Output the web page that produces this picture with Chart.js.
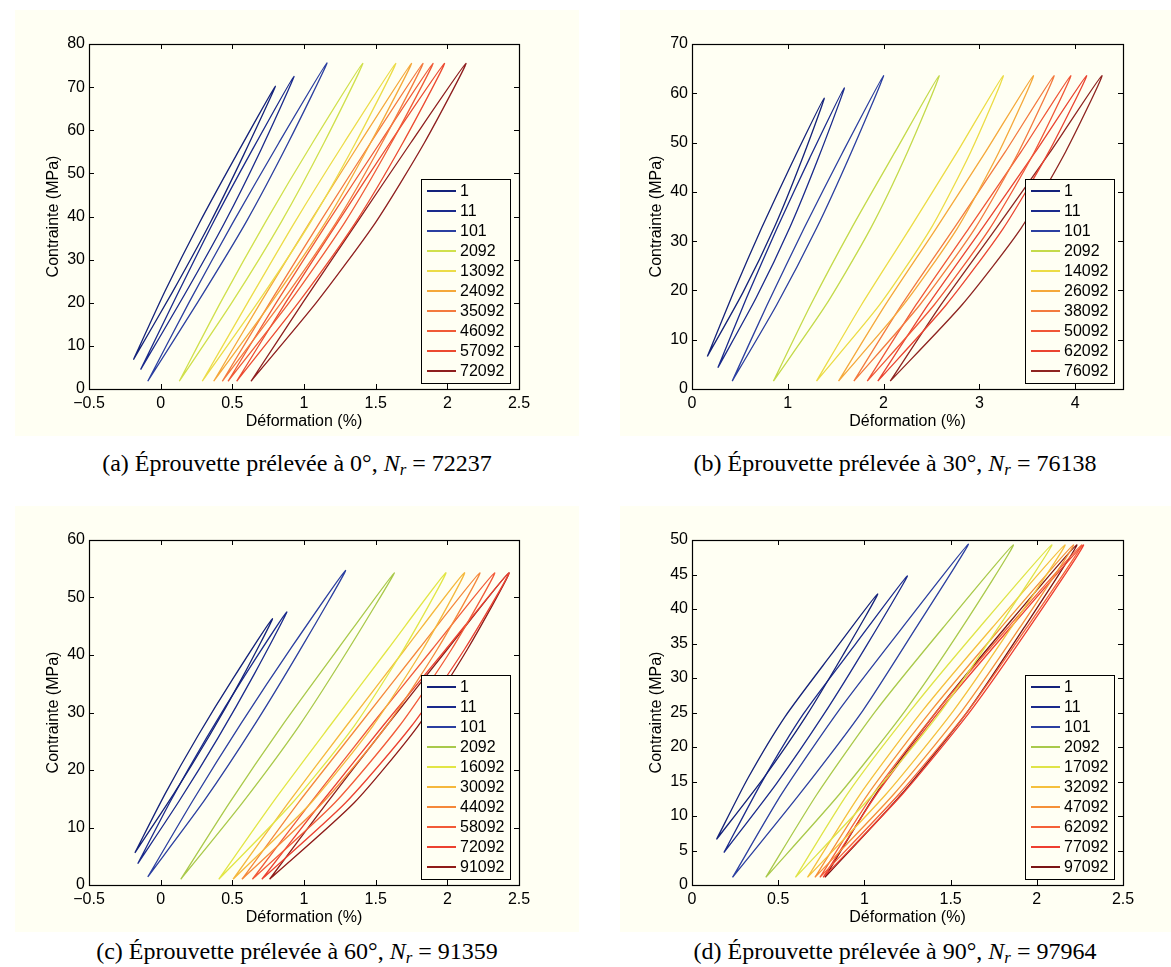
<!DOCTYPE html>
<html>
<head>
<meta charset="utf-8">
<script src="https://cdn.jsdelivr.net/npm/chart.js@4.4.1/dist/chart.umd.min.js"></script>
<style>
  body { margin: 0; background: #fff; width: 1171px; height: 967px; position: relative; overflow: hidden; }
  .panel { position: absolute; background: #fffff3; }
  .caption { position: absolute; font-family: 'Liberation Serif', 'Times New Roman', serif; font-size: 24px;
             white-space: nowrap; transform: translateX(-50%); line-height: 28px; }
  .caption sub { font-size: 70%; vertical-align: -0.25em; line-height: 0; }
</style>
</head>
<body>
<div class="panel" style="left:15px;top:10px;width:564px;height:426px"><canvas id="chartA"></canvas></div>
<div class="panel" style="left:620px;top:10px;width:551px;height:426px"><canvas id="chartB"></canvas></div>
<div class="panel" style="left:15px;top:506px;width:564px;height:426px"><canvas id="chartC"></canvas></div>
<div class="panel" style="left:620px;top:506px;width:551px;height:426px"><canvas id="chartD"></canvas></div>

<div class="caption" style="left:297px;top:449px">(a) Éprouvette prélevée à 0°, <i>N<sub>r</sub></i> = 72237</div>
<div class="caption" style="left:895px;top:449px">(b) Éprouvette prélevée à 30°, <i>N<sub>r</sub></i> = 76138</div>
<div class="caption" style="left:297px;top:937px">(c) Éprouvette prélevée à 60°, <i>N<sub>r</sub></i> = 91359</div>
<div class="caption" style="left:895px;top:937px">(d) Éprouvette prélevée à 90°, <i>N<sub>r</sub></i> = 97964</div>

<script>
// cycle numbers shown in each legend
const cyclesA = ['1', '11', '101', '2092', '13092', '24092', '35092', '46092', '57092', '72092'];
const cyclesB = ['1', '11', '101', '2092', '14092', '26092', '38092', '50092', '62092', '76092'];
const cyclesC = ['1', '11', '101', '2092', '16092', '30092', '44092', '58092', '72092', '91092'];
const cyclesD = ['1', '11', '101', '2092', '17092', '32092', '47092', '62092', '77092', '97092'];

// hysteresis loops, [strain %, stress MPa]
const loopsA = [
  [[-0.19, 6.8], [0.085, 22.65], [0.345, 38.5], [0.58, 54.35], [0.80, 70.2], [0.53, 54.35], [0.27, 38.5], [0.03, 22.65], [-0.19, 6.8]],
  [[-0.14, 4.5], [0.16, 21.5], [0.445, 38.5], [0.70, 55.5], [0.93, 72.5], [0.64, 55.5], [0.365, 38.5], [0.11, 21.5], [-0.14, 4.5]],
  [[-0.09, 1.8], [0.26, 20.2], [0.595, 38.65], [0.89, 57.1], [1.16, 75.6], [0.825, 57.1], [0.505, 38.65], [0.20, 20.2], [-0.09, 1.8]],
  [[0.13, 1.8], [0.50, 20.2], [0.84, 38.65], [1.14, 57.1], [1.41, 75.5], [1.06, 57.1], [0.73, 38.65], [0.42, 20.2], [0.13, 1.8]],
  [[0.29, 1.8], [0.68, 20.2], [1.045, 38.65], [1.36, 57.1], [1.64, 75.5], [1.28, 57.1], [0.935, 38.65], [0.61, 20.2], [0.29, 1.8]],
  [[0.37, 1.8], [0.775, 20.2], [1.15, 38.65], [1.465, 57.1], [1.75, 75.5], [1.39, 57.1], [1.04, 38.65], [0.70, 20.2], [0.37, 1.8]],
  [[0.43, 1.8], [0.845, 20.2], [1.225, 38.65], [1.545, 57.1], [1.83, 75.5], [1.465, 57.1], [1.11, 38.65], [0.765, 20.2], [0.43, 1.8]],
  [[0.47, 1.8], [0.90, 20.2], [1.285, 38.65], [1.61, 57.1], [1.90, 75.5], [1.53, 57.1], [1.165, 38.65], [0.81, 20.2], [0.47, 1.8]],
  [[0.53, 1.8], [0.965, 20.2], [1.36, 38.65], [1.69, 57.1], [1.98, 75.5], [1.60, 57.1], [1.235, 38.65], [0.875, 20.2], [0.53, 1.8]],
  [[0.63, 1.8], [1.09, 20.2], [1.50, 38.65], [1.84, 57.1], [2.13, 75.5], [1.745, 57.1], [1.37, 38.65], [0.995, 20.2], [0.63, 1.8]]
];
const loopsB = [
  [[0.16, 6.6], [0.535, 19.7], [0.86, 32.8], [1.135, 45.9], [1.38, 59.0], [1.045, 45.9], [0.73, 32.8], [0.435, 19.7], [0.16, 6.6]],
  [[0.27, 4.3], [0.67, 18.5], [1.02, 32.7], [1.32, 46.9], [1.59, 61.1], [1.23, 46.9], [0.89, 32.7], [0.57, 18.5], [0.27, 4.3]],
  [[0.42, 1.6], [0.885, 17.1], [1.30, 32.6], [1.665, 48.1], [2.0, 63.6], [1.575, 48.1], [1.17, 32.6], [0.785, 17.1], [0.42, 1.6]],
  [[0.85, 1.6], [1.40, 17.1], [1.865, 32.6], [2.25, 48.1], [2.58, 63.6], [2.12, 48.1], [1.665, 32.6], [1.24, 17.1], [0.85, 1.6]],
  [[1.30, 1.6], [1.96, 17.1], [2.495, 32.6], [2.91, 48.1], [3.25, 63.6], [2.77, 48.1], [2.275, 32.6], [1.77, 17.1], [1.30, 1.6]],
  [[1.53, 1.6], [2.21, 17.1], [2.77, 32.6], [3.205, 48.1], [3.565, 63.6], [3.065, 48.1], [2.55, 32.6], [2.02, 17.1], [1.53, 1.6]],
  [[1.69, 1.6], [2.38, 17.1], [2.955, 32.6], [3.41, 48.1], [3.78, 63.6], [3.27, 48.1], [2.735, 32.6], [2.19, 17.1], [1.69, 1.6]],
  [[1.83, 1.6], [2.53, 17.1], [3.11, 32.6], [3.575, 48.1], [3.955, 63.6], [3.435, 48.1], [2.89, 32.6], [2.34, 17.1], [1.83, 1.6]],
  [[1.94, 1.6], [2.655, 17.1], [3.25, 32.6], [3.725, 48.1], [4.12, 63.6], [3.585, 48.1], [3.03, 32.6], [2.465, 17.1], [1.94, 1.6]],
  [[2.07, 1.6], [2.82, 17.1], [3.435, 32.6], [3.90, 48.1], [4.28, 63.6], [3.74, 48.1], [3.175, 32.6], [2.60, 17.1], [2.07, 1.6]]
];
const loopsC = [
  [[-0.18, 5.6], [0.09, 15.8], [0.34, 25.95], [0.57, 36.1], [0.78, 46.3], [0.51, 36.1], [0.26, 25.95], [0.03, 15.8], [-0.18, 5.6]],
  [[-0.16, 3.7], [0.13, 14.65], [0.40, 25.6], [0.65, 36.55], [0.88, 47.5], [0.59, 36.55], [0.32, 25.6], [0.07, 14.65], [-0.16, 3.7]],
  [[-0.09, 1.4], [0.305, 14.7], [0.66, 28.05], [0.985, 41.4], [1.29, 54.7], [0.915, 41.4], [0.56, 28.05], [0.225, 14.7], [-0.09, 1.4]],
  [[0.14, 1.0], [0.57, 14.3], [0.965, 27.65], [1.31, 41.0], [1.63, 54.3], [1.235, 41.0], [0.845, 27.65], [0.48, 14.3], [0.14, 1.0]],
  [[0.405, 1.0], [0.92, 14.3], [1.35, 27.65], [1.695, 41.0], [1.99, 54.3], [1.585, 41.0], [1.18, 27.65], [0.78, 14.3], [0.405, 1.0]],
  [[0.505, 1.0], [1.05, 14.3], [1.48, 27.65], [1.83, 41.0], [2.12, 54.3], [1.705, 41.0], [1.295, 27.65], [0.89, 14.3], [0.505, 1.0]],
  [[0.567, 1.0], [1.13, 14.3], [1.575, 27.65], [1.93, 41.0], [2.227, 54.3], [1.80, 41.0], [1.38, 27.65], [0.96, 14.3], [0.567, 1.0]],
  [[0.64, 1.0], [1.215, 14.3], [1.665, 27.65], [2.03, 41.0], [2.33, 54.3], [1.895, 41.0], [1.465, 27.65], [1.045, 14.3], [0.64, 1.0]],
  [[0.706, 1.0], [1.29, 14.3], [1.75, 27.65], [2.12, 41.0], [2.43, 54.3], [1.99, 41.0], [1.55, 27.65], [1.12, 14.3], [0.706, 1.0]],
  [[0.76, 1.0], [1.35, 14.3], [1.795, 27.65], [2.14, 41.0], [2.43, 54.3], [2.0, 41.0], [1.575, 27.65], [1.16, 14.3], [0.76, 1.0]]
];
const loopsD = [
  [[0.142, 6.6], [0.415, 15.5], [0.66, 24.4], [0.875, 33.3], [1.077, 42.2], [0.805, 33.3], [0.54, 24.4], [0.325, 15.5], [0.142, 6.6]],
  [[0.185, 4.7], [0.49, 14.7], [0.765, 24.75], [1.015, 34.8], [1.249, 44.8], [0.945, 34.8], [0.645, 24.75], [0.40, 14.7], [0.185, 4.7]],
  [[0.235, 1.1], [0.625, 13.2], [0.99, 25.25], [1.30, 37.3], [1.603, 49.4], [1.22, 37.3], [0.85, 25.25], [0.52, 13.2], [0.235, 1.1]],
  [[0.428, 1.1], [0.855, 13.15], [1.235, 25.2], [1.565, 37.25], [1.864, 49.3], [1.455, 37.25], [1.065, 25.2], [0.725, 13.15], [0.428, 1.1]],
  [[0.60, 1.1], [1.05, 13.15], [1.445, 25.2], [1.775, 37.25], [2.087, 49.3], [1.665, 37.25], [1.265, 25.2], [0.90, 13.15], [0.60, 1.1]],
  [[0.67, 1.1], [1.125, 13.15], [1.515, 25.2], [1.85, 37.25], [2.164, 49.3], [1.74, 37.25], [1.335, 25.2], [0.975, 13.15], [0.67, 1.1]],
  [[0.713, 1.1], [1.17, 13.15], [1.565, 25.2], [1.90, 37.25], [2.213, 49.3], [1.79, 37.25], [1.385, 25.2], [1.02, 13.15], [0.713, 1.1]],
  [[0.742, 1.1], [1.20, 13.15], [1.60, 25.2], [1.94, 37.25], [2.261, 49.3], [1.83, 37.25], [1.42, 25.2], [1.05, 13.15], [0.742, 1.1]],
  [[0.761, 1.1], [1.22, 13.15], [1.615, 25.2], [1.955, 37.25], [2.271, 49.3], [1.845, 37.25], [1.435, 25.2], [1.07, 13.15], [0.761, 1.1]],
  [[0.771, 1.1], [1.215, 13.15], [1.60, 25.2], [1.925, 37.25], [2.232, 49.3], [1.815, 37.25], [1.42, 25.2], [1.065, 13.15], [0.771, 1.1]]
];

const colorsA = ['#14227a', '#1a2a8c', '#2b3fa0', '#d0e04c', '#ecdc48', '#f5a83a', '#f47a3e', '#f05a36', '#ec4a30', '#8e1e1e'];
const colorsB = ['#14227a', '#1a2a8c', '#2b3fa0', '#c4da4a', '#ecdc45', '#f5a83a', '#f37a3e', '#f05636', '#ea4430', '#8e2420'];
const colorsC = ['#14227a', '#1a2a8c', '#2b3fa0', '#a9c94a', '#e2e645', '#f5b83c', '#f5883a', '#f25a38', '#ec4130', '#8e1b18'];
const colorsD = ['#14227a', '#1a2a8c', '#2b3fa0', '#a9c94a', '#dfe447', '#f5c03c', '#f59038', '#f56038', '#ee3e30', '#7a1414'];

Chart.defaults.font.family = "'Liberation Sans', Arial, sans-serif";
Chart.defaults.font.size = 16;
Chart.defaults.color = '#000';

// MATLAB look: full box, inward ticks, legend box inside the axes
const matlabBox = {
  id: 'matlabBox',
  afterDatasetsDraw(chart) {
    const { ctx, chartArea: a, scales: { x, y } } = chart;
    ctx.save();

    // legend, bottom right
    const w = 89, h = 204;
    const lx = a.right - 9 - w, ly = a.bottom - 6 - h;
    ctx.fillStyle = '#fffff3';
    ctx.fillRect(lx, ly, w, h);
    ctx.strokeStyle = '#000';
    ctx.lineWidth = 1;
    ctx.strokeRect(lx + 0.5, ly + 0.5, w, h);
    ctx.font = "16px 'Liberation Sans', Arial, sans-serif";
    ctx.textBaseline = 'middle';
    chart.data.datasets.forEach((ds, i) => {
      const yy = ly + 12 + 20 * i;
      ctx.strokeStyle = ds.borderColor;
      ctx.lineWidth = 2;
      ctx.beginPath();
      ctx.moveTo(lx + 6, yy);
      ctx.lineTo(lx + 35, yy);
      ctx.stroke();
      ctx.fillStyle = '#000';
      ctx.fillText(ds.label, lx + 39, yy + 1);
    });

    // frame
    ctx.strokeStyle = '#000';
    ctx.lineWidth = 1.2;
    ctx.strokeRect(Math.round(a.left) + 0.5, Math.round(a.top) + 0.5,
                   Math.round(a.right - a.left), Math.round(a.bottom - a.top));

    // inward ticks on all four sides
    ctx.lineWidth = 1;
    ctx.beginPath();
    x.ticks.forEach(t => {
      const px = Math.round(x.getPixelForValue(t.value)) + 0.5;
      ctx.moveTo(px, a.bottom); ctx.lineTo(px, a.bottom - 5);
      ctx.moveTo(px, a.top); ctx.lineTo(px, a.top + 5);
    });
    y.ticks.forEach(t => {
      const py = Math.round(y.getPixelForValue(t.value)) + 0.5;
      ctx.moveTo(a.left, py); ctx.lineTo(a.left + 5, py);
      ctx.moveTo(a.right, py); ctx.lineTo(a.right - 5, py);
    });
    ctx.stroke();
    ctx.restore();
  }
};

const minusSign = v => (v < 0 ? '\u2212' + Math.abs(v) : String(v));

function makeChart(id, cycles, loops, colors, xr, yr, rightPad, yWidth, yTitlePad) {
  const datasets = loops.map((pts, i) => ({
    label: cycles[i],
    data: pts.map(p => ({ x: p[0], y: p[1] })),
    borderColor: colors[i],
    borderWidth: 1.3,
    showLine: true,
    pointRadius: 0,
    tension: 0.22,
    fill: false
  }));

  new Chart(document.getElementById(id), {
    type: 'scatter',
    data: { datasets },
    options: {
      responsive: true,
      maintainAspectRatio: false,
      animation: false,
      events: [],
      layout: { padding: { top: 34, right: rightPad, bottom: 0, left: 0 } },
      plugins: { legend: { display: false }, tooltip: { enabled: false } },
      scales: {
        x: {
          type: 'linear', min: xr[0], max: xr[1],
          grid: { display: false, drawTicks: false },
          border: { display: false },
          ticks: { stepSize: xr[2], includeBounds: false, padding: 5, maxRotation: 0, callback: minusSign },
          title: { display: true, text: 'Déformation (%)', padding: { top: 0, bottom: 5 } },
          afterFit: s => { s.height = 47; }
        },
        y: {
          type: 'linear', min: yr[0], max: yr[1],
          grid: { display: false, drawTicks: false },
          border: { display: false },
          ticks: { stepSize: yr[2], padding: 4 },
          title: { display: true, text: 'Contrainte (MPa)', padding: { top: yTitlePad, bottom: 0 } },
          afterFit: s => { s.width = yWidth; }
        }
      }
    },
    plugins: [matlabBox]
  });
}

makeChart('chartA', cyclesA, loopsA, colorsA, [-0.5, 2.5, 0.5], [0, 80, 10], 60, 74, 29);
makeChart('chartB', cyclesB, loopsB, colorsB, [0, 4.5, 1], [0, 70, 10], 48, 72, 27);
makeChart('chartC', cyclesC, loopsC, colorsC, [-0.5, 2.5, 0.5], [0, 60, 10], 60, 74, 29);
makeChart('chartD', cyclesD, loopsD, colorsD, [0, 2.5, 0.5], [0, 50, 5], 48, 72, 27);
</script>
</body>
</html>
